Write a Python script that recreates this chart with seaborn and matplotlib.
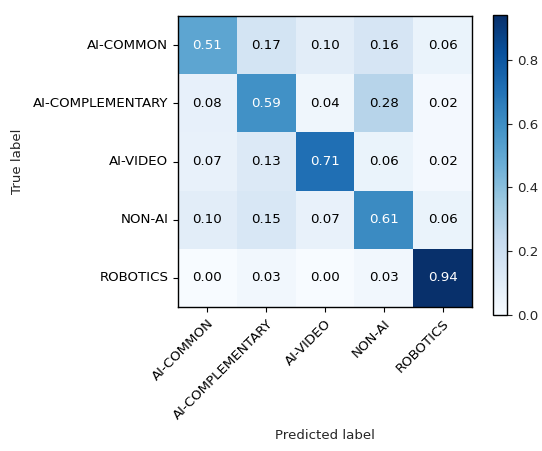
import numpy as np
import pandas as pd
import matplotlib
matplotlib.use("Agg")
import matplotlib.pyplot as plt
import seaborn as sns

classes = ["AI-COMMON", "AI-COMPLEMENTARY", "AI-VIDEO", "NON-AI", "ROBOTICS"]
row_common = [0.51, 0.17, 0.10, 0.16, 0.06]
row_complementary = [0.08, 0.59, 0.04, 0.28, 0.02]
row_video = [0.07, 0.13, 0.71, 0.06, 0.02]
row_nonai = [0.10, 0.15, 0.07, 0.61, 0.06]
row_robotics = [0.00, 0.03, 0.00, 0.03, 0.94]

cm = pd.DataFrame([row_common, row_complementary, row_video, row_nonai, row_robotics],
                  index=classes, columns=classes)

sns.set_style("white")
plt.rcParams['font.family'] = ['DejaVu Sans']
fs = 9.6

fig = plt.figure(figsize=(5.42, 4.51), dpi=100)
ax = fig.add_axes([178/542, 1 - 307/451, 294/542, 291/451])
cax = fig.add_axes([493/542, 1 - 315/451, 14/542, 300/451])

vmax = cm.values.max()
sns.heatmap(cm, ax=ax, cbar_ax=cax, cmap="Blues", vmin=0, vmax=vmax,
            annot=True, fmt=".2f", annot_kws={"fontsize": fs}, square=False)

thresh = vmax / 2.0
vals = cm.values.flatten()
for t, v in zip(ax.texts, vals):
    t.set_color("white" if v > thresh else "black")

for s in ax.spines.values():
    s.set_visible(True)
    s.set_color("black")
    s.set_linewidth(1.0)

ax.tick_params(axis="both", which="both", length=3.5, width=0.8, direction="out",
               bottom=True, left=True, labelsize=fs, colors="black")
ax.set_xticklabels(classes, rotation=45, ha="right", rotation_mode="anchor")
ax.set_yticklabels(classes, rotation=0)
ax.set_xlabel("Predicted label", fontsize=fs)
ax.set_ylabel("True label", fontsize=fs)
ax.xaxis.set_label_coords(0.5, -0.42)
ax.yaxis.set_label_coords(-0.525, 0.5)

cax.set_yticks([0.0, 0.2, 0.4, 0.6, 0.8])
cax.set_yticklabels(["0.0", "0.2", "0.4", "0.6", "0.8"])
cax.tick_params(length=3.5, width=0.8, labelsize=fs, right=True, direction="out")
cbar = ax.collections[0].colorbar
cbar.outline.set_visible(True)
cbar.outline.set_edgecolor("black")
cbar.outline.set_linewidth(1.0)

fig.savefig("out.png", dpi=100)
